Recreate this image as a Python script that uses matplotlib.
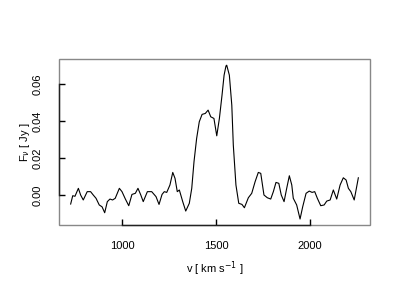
import matplotlib
matplotlib.use("Agg")
import matplotlib.pyplot as plt
from matplotlib.patches import Rectangle

plt.rcParams['font.family'] = ['Liberation Sans', 'DejaVu Sans']

# velocity (km/s) and flux density (Jy)
velocity = [727, 738, 750, 768, 780, 794, 815, 833, 847, 862, 879, 894, 908, 922,
            936, 950, 964, 986, 1000, 1018, 1036, 1053, 1071, 1085, 1100, 1113,
            1135, 1158, 1181, 1197, 1213, 1225, 1238, 1255, 1270, 1282, 1294, 1305,
            1323, 1339, 1358, 1371, 1383, 1397, 1411, 1426, 1443, 1458, 1472, 1489,
            1504, 1518, 1532, 1543, 1553, 1557, 1571, 1584, 1592, 1606, 1621, 1638,
            1651, 1672, 1690, 1708, 1725, 1738, 1755, 1773, 1791, 1805, 1819, 1834,
            1847, 1862, 1876, 1890, 1903, 1911, 1929, 1947, 1961, 1979, 1996, 2011,
            2025, 2039, 2057, 2075, 2089, 2107, 2124, 2142, 2160, 2177, 2192, 2204,
            2217, 2235, 2257]
flux = [-0.0047, -0.0002, -0.0005, 0.0038, 0.0002, -0.0025, 0.0020, 0.0020, 0.0002,
        -0.0016, -0.0052, -0.0062, -0.0094, -0.0034, -0.0020, -0.0025, -0.0016,
        0.0038, 0.0020, -0.0020, -0.0056, 0.0005, 0.0011, 0.0038, 0.0002, -0.0034,
        0.0020, 0.0020, -0.0007, -0.0049, 0.0005, 0.0020, 0.0016, 0.0056, 0.0124,
        0.0092, 0.0020, 0.0029, -0.0034, -0.0085, -0.0043, 0.0038, 0.0182, 0.0308,
        0.0398, 0.0438, 0.0443, 0.0461, 0.0425, 0.0416, 0.0322, 0.0416, 0.0542,
        0.0650, 0.0700, 0.0704, 0.0650, 0.0488, 0.0272, 0.0056, -0.0043, -0.0049,
        -0.0067, -0.0013, 0.0011, 0.0074, 0.0124, 0.0119, 0.0002, -0.0013, -0.0020,
        0.0020, 0.0070, 0.0065, 0.0002, -0.0034, 0.0038, 0.0106, 0.0056, -0.0016,
        -0.0052, -0.0128, -0.0062, 0.0011, 0.0023, 0.0016, 0.0020, -0.0016, -0.0056,
        -0.0052, -0.0031, -0.0025, 0.0029, -0.0020, 0.0056, 0.0095, 0.0083, 0.0038,
        0.0020, -0.0025, 0.0095]

xticks = [1000, 1500, 2000]
yticks = [0.00, 0.02, 0.04, 0.06]
ytick_labels = ['0.00', '0.02', '0.04', '0.06']

fig = plt.figure(figsize=(4, 3), dpi=100)
ax = fig.add_axes([0.1475, 0.249, 0.7775, 0.554])
ax.plot(velocity, flux, color='black', lw=0.8)

ax.set_xlim(665, 2319)
ax.set_ylim(-0.0162, 0.0737)

# R style box: gray frame, black axis lines only across the ticks
ax.add_patch(Rectangle((0, 0), 1, 1, transform=ax.transAxes, fill=False,
                       edgecolor='#888888', lw=1.0, clip_on=False, zorder=1))
for side in ['top', 'right']:
    ax.spines[side].set_visible(False)
ax.spines['left'].set_bounds(0.0, 0.06)
ax.spines['bottom'].set_bounds(1000, 2000)
for side in ['left', 'bottom']:
    ax.spines[side].set_color('#222222')
    ax.spines[side].set_linewidth(1.0)

ax.set_xticks(xticks)
ax.set_xticklabels([str(t) for t in xticks])
ax.set_yticks(yticks)
ax.set_yticklabels(ytick_labels, rotation=90, va='center')
ax.tick_params(direction='in', length=4, width=1, labelsize=8)
ax.tick_params(axis='x', pad=11)
ax.tick_params(axis='y', pad=11.5)

ax.set_xlabel(r'v [ km s$^{-1}$ ]', fontsize=8, labelpad=6)
ax.set_ylabel(r'F$_\nu$ [ Jy ]', fontsize=8, labelpad=1)

fig.savefig('out.png', dpi=100)
